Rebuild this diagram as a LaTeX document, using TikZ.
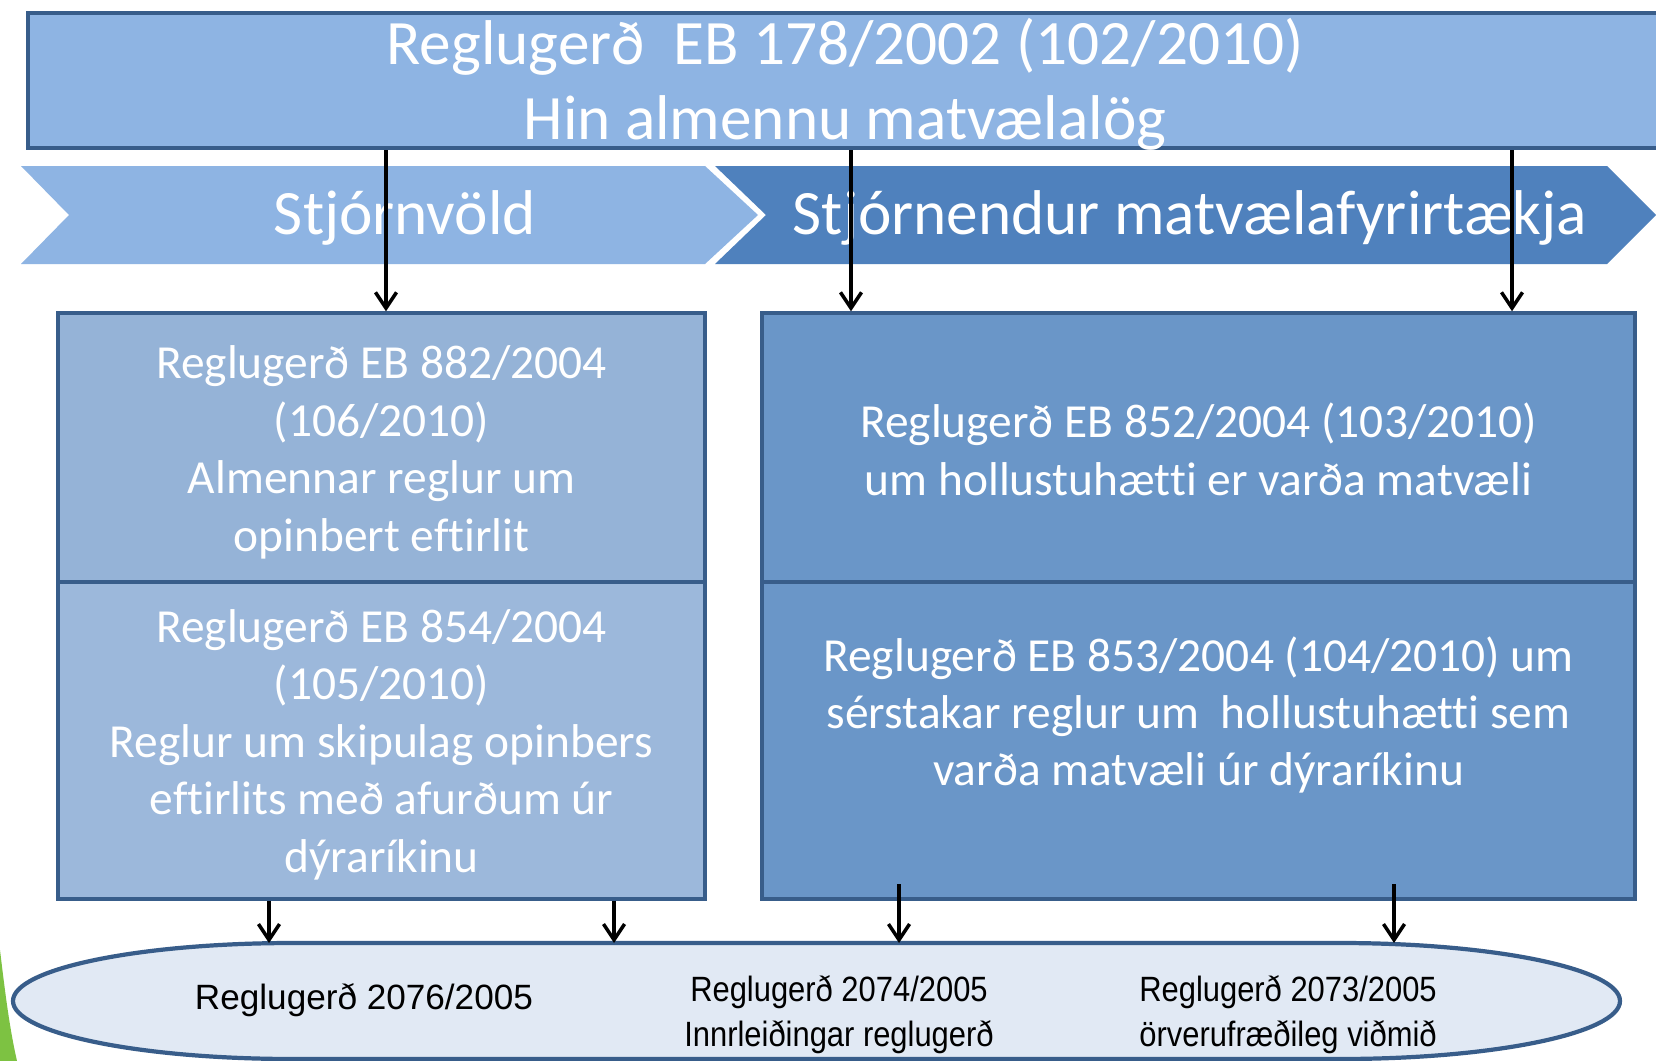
\documentclass[tikz,border=0pt]{standalone}
\usepackage{fontspec}
\setmainfont{Carlito}[Ligatures=NoCommon]
\newfontfamily\arialfont{Liberation Sans}
\newfontfamily\narrowfont[FakeStretch=0.88]{Liberation Sans}
\usepackage{tikz}
\usetikzlibrary{arrows.meta,positioning,calc}
\usepackage{xcolor}

\definecolor{lawblue}{HTML}{8EB4E3}
\definecolor{bizblue}{HTML}{4F81BD}
\definecolor{edgeblue}{HTML}{385D8A}
\definecolor{leftfill}{HTML}{95B3D7}
\definecolor{leftfilltwo}{HTML}{9CB8DB}
\definecolor{rightfill}{HTML}{6A96C8}
\definecolor{ovalfill}{HTML}{E1E9F4}
\definecolor{swoosh}{HTML}{7DC242}

\tikzset{
    regbox/.style={draw=edgeblue, line width=2pt, anchor=center},
    boxtext/.style={text=white, align=center, font=\fontsize{27}{32.7}\selectfont},
    bigtext/.style={text=white, align=center, font=\fontsize{36}{42.6}\selectfont},
    ovaltext/.style={text=black, align=center},
    arr/.style={-{Straight Barb[length=9pt,width=12pt,line width=2pt]}, line width=2pt}
}

\begin{document}
\begin{tikzpicture}[x=0.02cm, y=-0.02cm]
    \clip (0,0) rectangle (1656,1061);
    \fill[white] (0,0) rectangle (1656,1061);

    % green swoosh in the corner
    \fill[swoosh] (0,950) .. controls (6,1000) and (10,1030) .. (17,1061) -- (0,1061) -- cycle;

    % Top law box
    \node[regbox, fill=lawblue, line width=2.4pt, minimum width=33.44cm, minimum height=2.7cm] (law) at (864,80.5) {};
    \node[bigtext] (lawtxt) at (845,84) {Reglugerð~ EB 178/2002 (102/2010)\\Hin almennu matvælalög};

    % Chevrons
    \fill[lawblue] (21,166) -- (705,166) -- (758,215) -- (705,264) -- (21,264) -- (69,215) -- cycle;
    \fill[bizblue] (715,166) -- (1607,166) -- (1656,215) -- (1607,264) -- (715,264) -- (766,215) -- cycle;
    \node[bigtext] (gov) at (405,218) {Stjórnvöld};
    \node[bigtext] (biz) at (1190,218) {Stjórnendur matvælafyrirtækja};

    % Left boxes
    \node[regbox, fill=leftfill, minimum width=12.94cm, minimum height=5.38cm] (lu) at (381.5,447.5) {};
    \node[regbox, fill=leftfilltwo, minimum width=12.94cm, minimum height=6.34cm] (ll) at (381.5,740.5) {};
    \node[boxtext] (lutxt) at ($(lu.center)+(0,5)$) {Reglugerð EB 882/2004\\(106/2010)\\Almennar reglur um\\opinbert eftirlit};
    \node[boxtext] (lltxt) at ($(ll.center)+(0,4)$) {Reglugerð EB 854/2004\\(105/2010)\\Reglur um skipulag opinbers\\eftirlits með afurðum úr\\dýraríkinu};

    % Right boxes
    \node[regbox, fill=rightfill, minimum width=17.46cm, minimum height=5.38cm] (ru) at (1198.5,447.5) {};
    \node[regbox, fill=rightfill, minimum width=17.46cm, minimum height=6.34cm] (rl) at (1198.5,740.5) {};
    \node[boxtext] (rutxt) at ($(ru.center)+(0,2)$) {Reglugerð EB 852/2004 (103/2010)\\um hollustuhætti er varða matvæli};
    \node[boxtext] (rltxt) at (1198.5,715) {Reglugerð EB 853/2004 (104/2010) um\\sérstakar reglur um~ hollustuhætti sem\\varða matvæli úr dýraríkinu};

    % Oval at the bottom
    \draw[draw=edgeblue, fill=ovalfill, line width=2.4pt]
        (293,943) -- (1340,943) .. controls (1495,943) and (1620,969) .. (1620,1001)
        .. controls (1620,1033) and (1495,1059) .. (1340,1059) -- (293,1059)
        .. controls (138,1059) and (13,1033) .. (13,1001)
        .. controls (13,969) and (138,943) .. (293,943) -- cycle;
    \coordinate (ovtop) at (816,943);
    \node[ovaltext, font=\arialfont\fontsize{20}{25.5}\selectfont] (r2076) at (364,1000) {Reglugerð 2076/2005};
    \node[ovaltext, font=\narrowfont\fontsize{20}{25.5}\selectfont] (r2074) at (839,1015) {Reglugerð 2074/2005\\Innrleiðingar reglugerð};
    \node[ovaltext, font=\narrowfont\fontsize{20}{25.5}\selectfont] (r2073) at (1288,1015) {Reglugerð 2073/2005\\örverufræðileg viðmið};

    % Arrows
    \coordinate (a1) at (386,0);
    \coordinate (a2) at (851,0);
    \coordinate (a3) at (1512,0);
    \coordinate (a4) at (269,0);
    \coordinate (a5) at (614,0);
    \coordinate (a6) at (899,884);
    \coordinate (a7) at (1394,884);
    \draw[arr] (law.south -| a1) -- (lu.north -| a1);
    \draw[arr] (law.south -| a2) -- (ru.north -| a2);
    \draw[arr] (law.south -| a3) -- (ru.north -| a3);
    \draw[arr] (ll.south -| a4) -- (ovtop -| a4);
    \draw[arr] (ll.south -| a5) -- (ovtop -| a5);
    \draw[arr] (a6) -- (ovtop -| a6);
    \draw[arr] (a7) -- (ovtop -| a7);
\end{tikzpicture}
\end{document}
